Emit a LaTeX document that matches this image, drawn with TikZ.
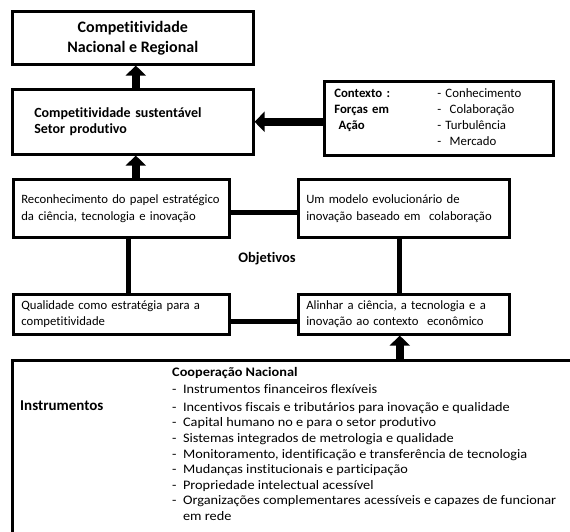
\documentclass[tikz,border=0pt]{standalone}
\usepackage{fontspec}
\setmainfont{Carlito}[Ligatures=NoCommon]
\newfontfamily\listfont{Carlito}[Ligatures=NoCommon, FakeStretch=1.1]
\usepackage{tikz}
\usetikzlibrary{arrows.meta,positioning,calc}

\tikzset{
  box/.style={draw, line width=2.6pt, rectangle, inner sep=0pt, anchor=north west},
  bigarrow/.style={line width=8pt, -{Triangle[width=20pt,length=10pt]}},
  link/.style={line width=5pt}
}

\begin{document}
\begin{tikzpicture}[x=1pt,y=-1pt,font=\fontsize{12.7}{17}\selectfont]
  \useasboundingbox (0,0) rectangle (570,532);
  \clip (0,0) rectangle (570,532);
  % Top: competitiveness
  \node[box, minimum width=241pt, minimum height=53pt, align=center,
        font=\fontsize{16}{20}\selectfont\bfseries] (comp) at (11,10)
        {Competitividade\\Nacional e Regional};
  \node[box, minimum width=241pt, minimum height=65pt, text width=197pt, inner xsep=22pt,
        align=left, font=\fontsize{14}{15.5}\selectfont\bfseries] (sust) at (11,88)
        {Competitividade sustentável\\Setor produtivo};
  % Context box
  \node[box, minimum width=229pt, minimum height=74pt, text width=209pt, inner xsep=10pt,
        align=left, font=\fontsize{12.8}{13.2}\selectfont] (ctx) at (323,80)
        {\renewcommand{\arraystretch}{1.21}%
         \begin{tabular}{@{}p{103pt}@{}l@{}}
           \textbf{Contexto :} & - Conhecimento\\
           \textbf{Forças em} & -\ \ Colaboração\\
           \textbf{\ Ação} & - Turbulência\\
            & -\ \ Mercado
         \end{tabular}};
  % Objectives
  \node[box, minimum width=216pt, minimum height=58pt, text width=200pt, inner xsep=8pt,
        align=left] (recon) at (12,178)
        {Reconhecimento do papel estratégico\\da ciência, tecnologia e inovação};
  \node[box, minimum width=211pt, minimum height=58pt, text width=195pt, inner xsep=8pt,
        align=left] (modelo) at (297,178)
        {Um modelo evolucionário de\\inovação baseado em\ \ colaboração};
  \node[box, minimum width=216pt, minimum height=40pt, text width=200pt, inner xsep=8pt,
        align=left, font=\fontsize{12.7}{16}\selectfont] (qual) at (12,293)
        {Qualidade como estratégia para a\\competitividade};
  \node[box, minimum width=211pt, minimum height=40pt, text width=195pt, inner xsep=8pt,
        align=left, font=\fontsize{12.7}{16}\selectfont] (alinhar) at (297,293)
        {Alinhar a ciência, a tecnologia e a\\inovação ao contexto\ \ econômico};
  \node[font=\fontsize{14.5}{16}\selectfont\bfseries] (obj) at (267,259) {Objetivos};
  % Instruments (runs off the page)
  \node[box, minimum width=600pt, minimum height=200pt] (instr) at (11,359) {};
  \node[anchor=west, inner sep=0pt, font=\fontsize{15}{18}\selectfont\bfseries] (instrlbl) at (20,406) {Instrumentos};
  \node[anchor=north west, inner sep=0pt, align=left, font=\listfont\fontsize{13}{15.6}\selectfont] (lista) at (172,365)
        {\begin{tabular}{@{}l@{\ \ }l@{}}
           \multicolumn{2}{@{}l}{\textbf{Cooperação Nacional}}\\[2pt]
           - & Instrumentos financeiros flexíveis\\[2pt]
           - & Incentivos fiscais e tributários para inovação e qualidade\\
           - & Capital humano no e para o setor produtivo\\
           - & Sistemas integrados de metrologia e qualidade\\
           - & Monitoramento, identificação e transferência de tecnologia\\
           - & Mudanças institucionais e participação\\
           - & Propriedade intelectual acessível\\
           - & Organizações complementares acessíveis e capazes de funcionar\\
             & em rede
         \end{tabular}};
  % Arrows and links
  \draw[bigarrow] ([xshift=3pt]sust.north) -- ([xshift=3pt]comp.south);
  \draw[bigarrow] ([xshift=3pt]sust.south |- recon.north) -- ([xshift=3pt]sust.south);
  \draw[bigarrow] (ctx.west |- sust.east) -- (sust.east);
  \draw[link] ([yshift=-4pt]recon.east) -- ([yshift=-4pt]recon.east -| modelo.west);
  \draw[link] ([xshift=7pt]recon.south) -- ([xshift=7pt]recon.south |- qual.north);
  \draw[link] ([xshift=-4pt]modelo.south) -- ([xshift=-4pt]modelo.south |- alinhar.north);
  \draw[link] ([yshift=-7pt]qual.east) -- ([yshift=-7pt]qual.east -| alinhar.west);
  \draw[bigarrow] ([xshift=-4pt]alinhar.south |- instr.north) -- ([xshift=-4pt]alinhar.south);
\end{tikzpicture}
\end{document}
